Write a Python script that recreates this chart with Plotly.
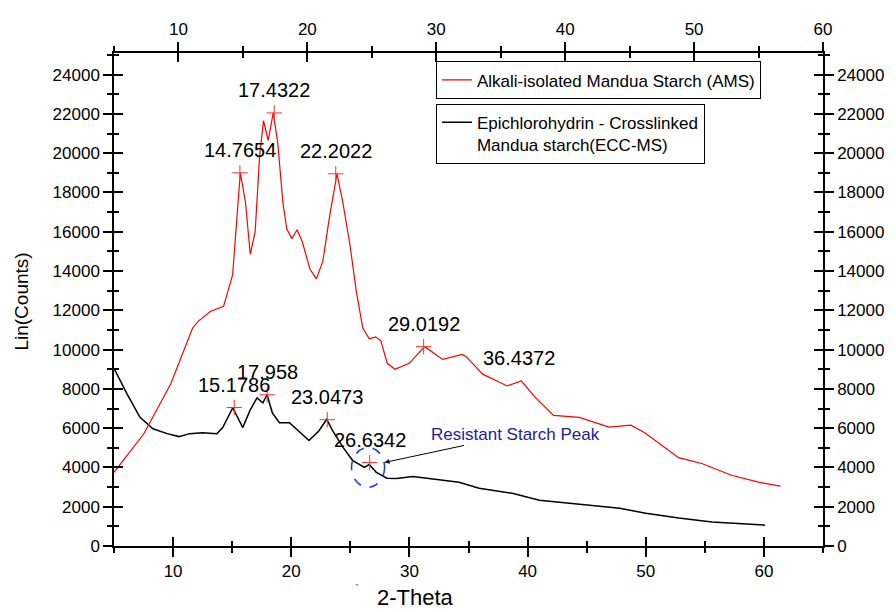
import plotly.graph_objects as go

FONT = "Liberation Sans, Arial, sans-serif"

# ---------------- data ----------------
# Alkali-isolated Mandua Starch (AMS) - plotted against the top 2-Theta axis
ams_theta = [5.0, 7.3, 9.4, 9.8, 10.2, 11.1, 11.55, 12.5, 13.5, 14.2, 14.8, 15.2, 15.57, 15.95,
             16.3, 16.6, 16.96, 17.35, 17.7, 18.1, 18.4, 18.8, 19.2, 19.6, 20.2, 20.7, 21.2,
             21.74, 22.3, 22.75, 23.3, 23.8, 24.3, 24.8, 25.3, 25.7, 26.2, 26.8, 27.9, 29.1,
             30.5, 32.0, 32.3, 33.6, 35.5, 36.6, 37.7, 39.1, 41.1, 43.4, 45.1, 46.2, 48.8,
             50.6, 52.9, 55.0, 56.7]
ams_counts = [3750, 5700, 8250, 8900, 9550, 11100, 11450, 11950, 12200, 13800, 19000, 17500,
              14850, 16000, 19900, 21650, 20650, 22050, 20550, 17500, 16150, 15650, 16100,
              15500, 14100, 13600, 14500, 16850, 18950, 17500, 15350, 12950, 11100, 10550,
              10650, 10450, 9300, 9000, 9300, 10150, 9500, 9750, 9650, 8750, 8150, 8400, 7550,
              6650, 6550, 6050, 6150, 5750, 4500, 4200, 3600, 3250, 3050]

# Epichlorohydrin-Crosslinked Mandua starch (ECC-MS) - bottom 2-Theta axis
ecc_theta = [5.0, 6.1, 7.2, 8.3, 9.5, 10.5, 11.4, 12.5, 13.7, 14.2, 15.05, 15.5, 15.9, 16.5,
             17.1, 17.6, 17.95, 18.4, 19.0, 19.85, 20.4, 21.5, 22.35, 23.0, 23.5, 24.4, 25.2,
             26.2, 26.6, 27.2, 28.1, 28.9, 30.3, 33.1, 34.2, 35.9, 38.7, 41.0, 44.4, 47.8,
             50.0, 52.8, 55.6, 58.5, 60.1]
ecc_counts = [9050, 7750, 6550, 5970, 5720, 5570, 5720, 5770, 5720, 6030, 7040, 6480, 6030,
              6890, 7540, 7290, 7700, 6780, 6280, 6280, 5970, 5370, 5870, 6450, 5870, 5010,
              4350, 4000, 4150, 3750, 3450, 3440, 3540, 3340, 3240, 2940, 2680, 2330, 2130,
              1920, 1670, 1420, 1220, 1110, 1060]

# labelled peaks
ams_peak_theta = [14.7654, 17.4322, 22.2022, 29.0192]
ams_peak_counts = [19000, 22050, 18950, 10150]
ams_extra_label_theta = [36.4372]
ams_extra_label_counts = [8400]
ecc_peak_theta = [15.1786, 17.958, 23.0473, 26.6342]
ecc_peak_counts = [7050, 7700, 6430, 4250]

# resistant starch region (bottom axis / counts)
rs_theta_range = [25.1, 27.9]
rs_count_range = [2990, 5010]
rs_arrow_point = (27.89, 4253)

y_ticks = list(range(0, 24001, 2000))
x_bottom_ticks = [10, 20, 30, 40, 50, 60]
x_top_ticks = [10, 20, 30, 40, 50, 60]

# ---------------- figure ----------------
fig = go.Figure()

fig.add_trace(go.Scatter(
    x=ams_theta, y=ams_counts, xaxis="x2", yaxis="y", mode="lines",
    line=dict(color="#ff0000", width=1.2),
    name="Alkali-isolated Mandua Starch (AMS)", legend="legend"))
fig.add_trace(go.Scatter(
    x=ecc_theta, y=ecc_counts, xaxis="x", yaxis="y", mode="lines",
    line=dict(color="#000000", width=1.5),
    name="Epichlorohydrin - Crosslinked<br>Mandua starch(ECC-MS)", legend="legend2"))

# peak markers
fig.add_trace(go.Scatter(
    x=ams_peak_theta, y=ams_peak_counts, xaxis="x2", yaxis="y", mode="markers",
    marker=dict(symbol="cross-thin", size=11, line=dict(color="#ff3030", width=1)),
    showlegend=False, hoverinfo="skip"))
fig.add_trace(go.Scatter(
    x=ecc_peak_theta, y=ecc_peak_counts, xaxis="x", yaxis="y", mode="markers",
    marker=dict(symbol="cross-thin", size=11, line=dict(color="#ff3030", width=1)),
    showlegend=False, hoverinfo="skip"))

# dummy traces so that every auxiliary axis is drawn
for xa, ya in [("x", "y2"), ("x3", "y"), ("x4", "y"), ("x", "y3"), ("x", "y4")]:
    fig.add_trace(go.Scatter(x=[], y=[], xaxis=xa, yaxis=ya, showlegend=False,
                             hoverinfo="skip"))

tickfont = dict(family=FONT, size=17, color="black")
LW = 1.5


def xax(rng, side, ticks, labels, line):
    return dict(range=rng, side=side, anchor="y", showgrid=False, zeroline=False,
                showline=line, linecolor="black", linewidth=LW,
                tickmode="array", tickvals=x_bottom_ticks if side == "bottom" else x_top_ticks,
                ticks=ticks, ticklen=9, tickwidth=LW, tickcolor="black",
                showticklabels=labels, tickfont=tickfont, tickformat="d",
                minor=dict(ticks=ticks, ticklen=5, tickwidth=LW, tickcolor="black",
                           tick0=5, dtick=10))


def yax(side, ticks, labels, line):
    return dict(range=[0, 25100], side=side, anchor="x", showgrid=False, zeroline=False,
                showline=line, linecolor="black", linewidth=LW,
                tickmode="array", tickvals=y_ticks,
                ticks=ticks, ticklen=9, tickwidth=LW, tickcolor="black",
                showticklabels=labels, tickfont=tickfont, tickformat="d",
                minor=dict(ticks=ticks, ticklen=5, tickwidth=LW, tickcolor="black",
                           tick0=1000, dtick=2000))


xa1 = xax([5, 65], "bottom", "outside", True, True)
xa2 = xax([5, 60], "top", "outside", True, True)
xa2["overlaying"] = "x"
xa3 = xax([5, 65], "bottom", "inside", False, False)
xa3["overlaying"] = "x"
xa4 = xax([5, 60], "top", "inside", False, False)
xa4["overlaying"] = "x"

ya1 = yax("left", "outside", True, True)
ya2 = yax("right", "outside", True, True)
ya2["overlaying"] = "y"
ya3 = yax("left", "inside", False, False)
ya3["overlaying"] = "y"
ya4 = yax("right", "inside", False, False)
ya4["overlaying"] = "y"

annotations = []
for t, c in zip(ams_peak_theta + ams_extra_label_theta, ams_peak_counts + ams_extra_label_counts):
    annotations.append(dict(x=t, y=c, xref="x2", yref="y", text=f"{t:g}", showarrow=False,
                            xanchor="center", yanchor="middle", yshift=23,
                            font=dict(family=FONT, size=20, color="black")))
for t, c in zip(ecc_peak_theta, ecc_peak_counts):
    annotations.append(dict(x=t, y=c, xref="x", yref="y", text=f"{t:g}", showarrow=False,
                            xanchor="center", yanchor="middle", yshift=23,
                            font=dict(family=FONT, size=20, color="black")))

annotations.append(dict(x=rs_arrow_point[0], y=rs_arrow_point[1], xref="x", yref="y",
                        text="Resistant Starch Peak", showarrow=True, ax=131, ay=-28,
                        arrowhead=2, arrowsize=1, arrowwidth=1, arrowcolor="black",
                        standoff=0, font=dict(family=FONT, size=17, color="#22229a")))

annotations.append(dict(x=-0.131, y=0.496, xref="paper", yref="paper", text="Lin(Counts)",
                        textangle=-90, showarrow=False, xanchor="center", yanchor="middle",
                        font=dict(family=FONT, size=19, color="black")))
annotations.append(dict(x=0.4248, y=-0.1048, xref="paper", yref="paper", text="2-Theta",
                        showarrow=False, xanchor="center", yanchor="middle",
                        font=dict(family=FONT, size=22, color="black")))
annotations.append(dict(x=0.343, y=-0.0887, xref="paper", yref="paper", text="`",
                        showarrow=False, xanchor="center", yanchor="middle",
                        font=dict(family=FONT, size=13, color="#555555")))

shapes = [dict(type="circle", xref="x", yref="y",
               x0=rs_theta_range[0], x1=rs_theta_range[1],
               y0=rs_count_range[0], y1=rs_count_range[1],
               line=dict(color="#1f3fe0", width=1.6, dash="dash"))]

legend_common = dict(xanchor="left", yanchor="top", bgcolor="white", bordercolor="black",
                     borderwidth=1, font=dict(family=FONT, size=17, color="black"),
                     valign="top", itemwidth=30)

# the page body adds an 8px offset, so the figure is 8px smaller than the window
fig.update_layout(
    width=888, height=604,
    margin=dict(l=106, r=71, t=42, b=66),
    paper_bgcolor="white", plot_bgcolor="white",
    xaxis=xa1, xaxis2=xa2, xaxis3=xa3, xaxis4=xa4,
    yaxis=ya1, yaxis2=ya2, yaxis3=ya3, yaxis4=ya4,
    annotations=annotations, shapes=shapes,
    legend=dict(x=0.454, y=0.983, **legend_common),
    legend2=dict(x=0.454, y=0.897, **legend_common),
    font=dict(family=FONT, color="black"),
)

fig.write_html("out.html")
